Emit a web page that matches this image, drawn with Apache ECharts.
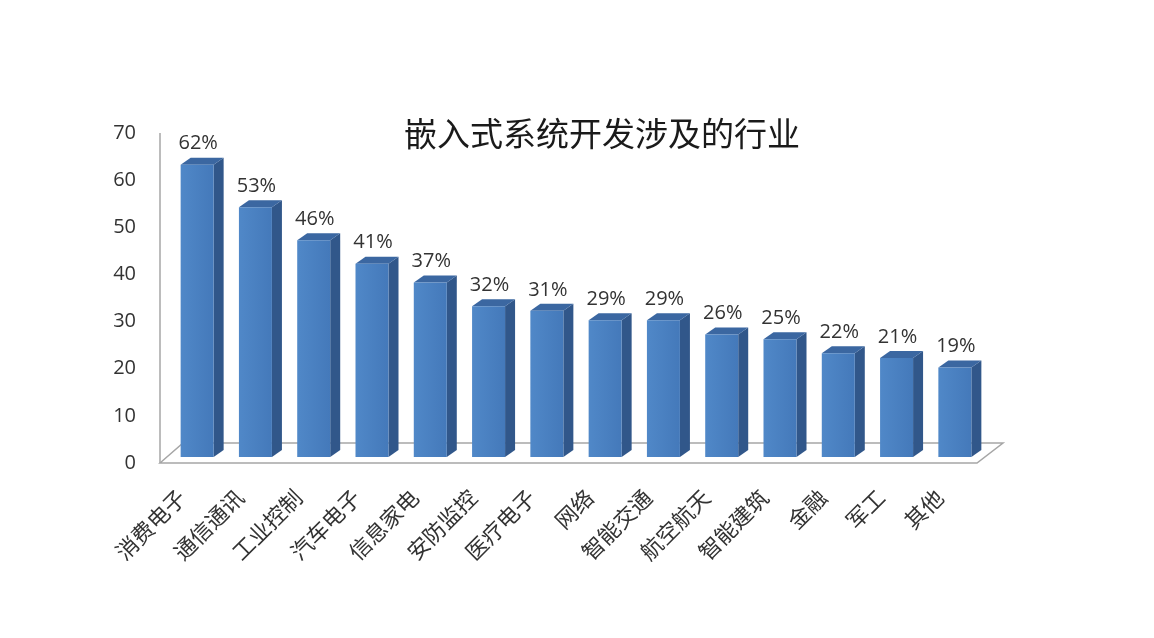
<!DOCTYPE html>
<html><head><meta charset="utf-8">
<script src="https://cdn.jsdelivr.net/npm/echarts@6/dist/echarts.min.js"></script>
<style>html,body{margin:0;padding:0;background:#fff}#c{width:1154px;height:638px}</style>
</head><body><div id="c"></div>
<script>
const categories = ['消费电子','通信通讯','工业控制','汽车电子','信息家电','安防监控','医疗电子','网络','智能交通','航空航天','智能建筑','金融','军工','其他'];
const values = [62,53,46,41,37,32,31,29,29,26,25,22,21,19];
const yMin = 0, yMax = 70, yStep = 10;
const titleText = '嵌入式系统开发涉及的行业';

const chart = echarts.init(document.getElementById('c'));
const W = 33, DX = 10, DY = 7, LIFT = 6;
function renderItem(params, api) {
  const idx = api.value(0), v = api.value(1);
  const top = api.coord([idx, v]);
  const base = api.coord([idx, 0]);
  const x0 = top[0] - W / 2, x1 = top[0] + W / 2;
  const yt = top[1] - LIFT, yb = base[1] - LIFT;
  return {
    type: 'group',
    children: [
      { type: 'polygon', shape: { points: [[x1, yt], [x1 + DX, yt - DY], [x1 + DX, yb - DY], [x1, yb]] }, style: { fill: '#31578a' } },
      { type: 'polygon', shape: { points: [[x0, yt], [x0 + DX, yt - DY], [x1 + DX, yt - DY], [x1, yt]] }, style: { fill: '#3b67a1' } },
      { type: 'rect', shape: { x: x0, y: yt, width: W, height: yb - yt },
        style: { fill: new echarts.graphic.LinearGradient(0, 0, 1, 0, [{ offset: 0, color: '#5088c8' }, { offset: 1, color: '#4479ba' }]) } },
      { type: 'text', style: { text: v + '%', x: top[0] + 1, y: yt - DY - 4, align: 'center', verticalAlign: 'bottom',
        fontSize: 20, fontFamily: '"Open Sans", Lato', fill: '#333' } }
    ]
  };
}
chart.setOption({
  animation: false,
  backgroundColor: '#fff',
  title: { text: titleText, left: 597, top: 112, textAlign: 'center',
    textStyle: { fontSize: 33, fontWeight: 'normal', color: '#1a1a1a', fontFamily: '"Noto Sans CJK SC"' } },
  grid: { left: 168, right: 170, top: 133, bottom: 175 },
  xAxis: {
    type: 'category', data: categories,
    axisLine: { show: false }, axisTick: { show: false },
    axisLabel: { rotate: 45, margin: 15, padding: [0, 22, 0, 0], fontSize: 22, color: '#333', fontFamily: '"Noto Sans CJK SC"', interval: 0 }
  },
  yAxis: {
    type: 'value', min: yMin, max: yMax, interval: yStep,
    axisLine: { show: false }, axisTick: { show: false }, splitLine: { show: false },
    axisLabel: { margin: 32, fontSize: 20, color: '#333', fontFamily: '"Open Sans", Lato' }
  },
  graphic: [
    { type: 'polygon', z: 0, shape: { points: [[160, 463], [183, 443], [1003, 443], [977, 463]] },
      style: { fill: '#fff', stroke: '#a6a6a6', lineWidth: 1.5 } },
    { type: 'line', z: 0, shape: { x1: 160, y1: 133, x2: 160, y2: 463 }, style: { stroke: '#a6a6a6', lineWidth: 1.5 } }
  ],
  series: [{
    type: 'custom', z: 5, renderItem: renderItem,
    data: values.map((v, i) => [i, v])
  }]
});
</script></body></html>
